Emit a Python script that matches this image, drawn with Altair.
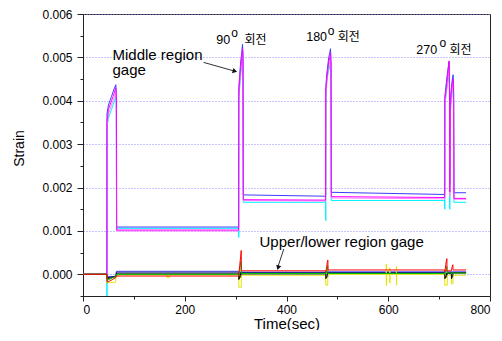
import altair as alt
import pandas as pd

# ---------------- data (time in s, strain) ----------------
X_MAJOR = [0, 200, 400, 600, 800]
X_MINOR = [100, 300, 500, 700]
Y_MAJOR = [0.000, 0.001, 0.002, 0.003, 0.004, 0.005, 0.006]
Y_MINOR = [-0.0005, 0.0005, 0.0015, 0.0025, 0.0035, 0.0045, 0.0055]

MID_CYAN = [(0, 0), (47, 0), (47.1, -0.0005), (47.3, 0.0034), (50, 0.0036), (53, 0.0037), (56, 0.0038),
            (59, 0.0039), (62, 0.0040), (64.5, 0.0041), (65.5, 0.0039), (66, 0.00106),
            (306, 0.00106), (306.2, 0.00085), (306.4, 0.0040), (308, 0.0043), (310, 0.0046), (312, 0.0048),
            (313.5, 0.0050), (314.5, 0.0048), (315, 0.00166),
            (477, 0.00166), (477.2, 0.00124), (477.4, 0.0041), (479, 0.0044), (481, 0.0046), (483, 0.0047),
            (485, 0.0048), (486.5, 0.0049), (487.5, 0.0046), (488, 0.00170),
            (711, 0.00170), (711.2, 0.0015), (711.4, 0.0039), (714, 0.0042), (717, 0.0044), (719.5, 0.0046),
            (720.3, 0.0043), (721, 0.0015), (722, 0.0037), (724, 0.0040), (726, 0.0042), (727.5, 0.0043),
            (728.5, 0.0040), (729, 0.00166), (753, 0.00166)]

MID_BLUE = [(0, 0), (47, 0), (47.2, 0.0037), (50, 0.0039), (53, 0.0040), (56, 0.0041), (59, 0.0042),
            (62, 0.0043), (64.5, 0.00437), (65.5, 0.0041), (66, 0.00109),
            (306, 0.00109), (306.3, 0.0043), (308, 0.0046), (310, 0.0049), (312, 0.0051), (313.5, 0.0053),
            (314.5, 0.0051), (315, 0.00183),
            (477, 0.00180), (477.3, 0.0043), (479, 0.0046), (481, 0.0048), (483, 0.0050), (485, 0.0051),
            (486.5, 0.0052), (487.5, 0.0049), (488, 0.00189),
            (711, 0.00184), (711.3, 0.0041), (714, 0.0044), (717, 0.0047), (719.5, 0.0049), (720.3, 0.0046),
            (721, 0.0021), (722, 0.0040), (724, 0.0043), (726, 0.0045), (727.5, 0.0046), (728.5, 0.0043),
            (729, 0.00188), (753, 0.00188)]

MID_PINK = [(0, 0), (47, 0), (47.1, 0.0034), (50, 0.0037), (53, 0.0038), (56, 0.0039), (59, 0.0040),
            (62, 0.0041), (64.5, 0.0042), (65.5, 0.0039), (66, 0.00100),
            (306, 0.00100), (306.2, 0.0040), (308, 0.0044), (310, 0.0047), (312, 0.0049), (313.5, 0.0051),
            (314.5, 0.0048), (315, 0.00170),
            (477, 0.00169), (477.2, 0.0041), (479, 0.0044), (481, 0.0046), (483, 0.0048), (485, 0.0049),
            (486.5, 0.0050), (487.5, 0.0047), (488, 0.00176),
            (711, 0.00174), (711.2, 0.0039), (714, 0.0042), (717, 0.0045), (719.5, 0.0047), (720.3, 0.0044),
            (721, 0.0018), (722, 0.0038), (724, 0.0041), (726, 0.0043), (727.5, 0.0044), (728.5, 0.0041),
            (729, 0.00173), (753, 0.00173)]

MID_MAGENTA = [(0, 0), (46.8, 0), (47, 0.0035), (50, 0.0038), (53, 0.0039), (56, 0.0040), (59, 0.0041),
               (62, 0.0042), (64.5, 0.0043), (65.8, 0.0040), (66.3, 0.00102),
               (305.8, 0.00102), (306, 0.0041), (308, 0.0045), (310, 0.0048), (312, 0.0050), (313.5, 0.0052),
               (314.5, 0.0049), (315.2, 0.00172),
               (476.8, 0.00171), (477, 0.0042), (479, 0.0045), (481, 0.0047), (483, 0.0049), (485, 0.0050),
               (486.5, 0.0051), (487.5, 0.0048), (488.2, 0.00179),
               (710.8, 0.00177), (711, 0.0040), (714, 0.0043), (717, 0.0046), (719.5, 0.00492), (720.3, 0.0045),
               (721, 0.0019), (722, 0.0039), (724, 0.0042), (726, 0.0044), (727.5, 0.0045), (728.5, 0.0042),
               (729.2, 0.00175), (753, 0.00175)]

LOW_BLUE = [(0, 0), (47, 0), (47.3, -0.00005), (65, -0.00005), (65.5, 0.00007), (306, 0.00007),
            (306.3, -0.00003), (311, 0.00005), (477, 0.00005), (481, 0.00006), (711, 0.00006), (753, 0.00006)]

LOW_NAVY = [(0, 0), (47, 0), (47.3, -0.00008), (65, -0.00004), (65.5, 0.00005), (306, 0.00005),
            (306.3, -0.00006), (311, -0.00006), (311.3, 0.00004), (477, 0.00004), (477.3, -0.00006),
            (481, -0.00006), (481.3, 0.00004), (711, 0.00004), (711.3, -0.00006), (716, -0.00006),
            (716.3, 0.00004), (753, 0.00004)]

LOW_YELLOW = [(0, 0), (47, 0), (47.3, -0.0002), (64, -0.00018), (65.5, -0.00001), (165, -0.00001),
              (165.2, -0.00007), (170, -0.00007), (170.2, -0.00001), (306, -0.00001), (306.3, -0.0003),
              (311, -0.0003), (311.3, -0.00002), (477, -0.00002), (477.3, -0.00025), (481, -0.00025),
              (481.3, 0.0), (596, 0.0), (596.1, 0.00024), (596.3, -0.00026), (596.5, 0.0), (603, 0.0),
              (603.1, 0.00015), (603.3, -0.0002), (603.5, 0.0), (616, 0.0), (616.1, 0.00018),
              (616.3, -0.00025), (616.5, 0.0), (711, 0.0), (711.3, -0.00025), (716, -0.00025),
              (716.3, -0.00002), (724, -0.00002), (724.3, -0.00022), (727, -0.00022), (727.3, -0.00002),
              (753, -0.00002)]

LOW_BLACK = [(0, 0), (47, 0), (47.3, -0.0001), (56, -0.00008), (65, -0.00005), (65.5, 0.00001),
             (306, 0.00001), (306.3, -0.00012), (308.5, -0.00006), (310.5, 0.00006), (310.8, 0.00001),
             (477, 0.00001), (477.3, -0.0001), (479.5, -0.00005), (481, 0.00005), (481.3, 0.00002),
             (711, 0.00002), (711.3, -0.0001), (713.5, -0.00005), (715, 0.00003), (715.3, 0.00002),
             (724, 0.00002), (724.3, -0.0001), (726.5, -0.00005), (727.3, 0.00003), (753, 0.00003)]

LOW_GREEN = [(0, 0), (47, 0), (47.3, -0.00014), (55, -0.0001), (64, -0.00005), (65.5, 0.0), (306, 0.0),
             (306.3, -0.00004), (308.5, 0.00015), (310.5, 0.0003), (310.8, 0.00002), (477, 0.00002),
             (477.3, 0.0), (479.5, 0.0001), (481, 0.0002), (481.3, 0.00002), (711, 0.00002), (711.3, 0.0),
             (713.5, 0.0001), (715, 0.00018), (715.3, 0.00003), (753, 0.00003)]

LOW_RED = [(0, 0), (47, 0), (47.3, -0.00018), (52, -0.00016), (58, -0.00012), (64, -0.00008),
           (65.5, -0.00004), (306, -0.00004), (306.3, 0.0), (308, 0.0002), (310, 0.00042), (311, 0.00055),
           (311.3, 0.00008), (477, 0.00008), (477.3, 0.00004), (479, 0.00018), (480.5, 0.0003),
           (481.3, 0.00033), (481.6, 0.0001), (711, 0.0001), (711.3, 0.00005), (713, 0.00022),
           (714.5, 0.00033), (715.3, 0.00036), (715.6, 0.00008), (724, 0.00008), (725.5, 0.00017),
           (727, 0.00022), (727.3, 0.0001), (753, 0.0001)]

SERIES = [("cyan", MID_CYAN), ("blue", MID_BLUE), ("pink", MID_PINK), ("magenta", MID_MAGENTA),
          ("lblue", LOW_BLUE), ("navy", LOW_NAVY), ("yellow", LOW_YELLOW), ("black", LOW_BLACK),
          ("green", LOW_GREEN), ("red", LOW_RED)]
COLORS = ["#00f0ff", "#3c3cff", "#ff80ff", "#ff00ff",
          "#5a5aff", "#1a1a8c", "#e6e600", "#000000", "#00c800", "#ff0000"]

ANN_TEXT = ["Middle region", "gage", "Upper/lower region gage",
            "90", "o", "회전", "180", "o", "회전", "270", "o", "회전"]
ANN_T = [58, 58, 347, 261.8, 291.3, 317.5, 438.7, 481.2, 500.8, 655, 700.7, 720.4]
ANN_V = [0.00494, 0.0046, 0.000636, 0.005305, 0.00548, 0.005305, 0.00537, 0.00552, 0.00537,
         0.005076, 0.005245, 0.005076]
ANN_SIZE = [15, 15, 15, 12.5, 12, 12, 12.5, 12, 12, 12.5, 12, 12]

ARROW_T = [236.9, 394.7]
ARROW_V = [0.004885, 0.000583]
ARROW_T2 = [299.5, 383.0]
ARROW_V2 = [0.004678, 0.00017]
HEAD_T = [298.6, 383.5]
HEAD_V = [0.004681, 0.000152]
HEAD_ANGLE = [106, 197]

# ---------------- tables ----------------
rows = []
for name, pts in SERIES:
    for i, (t, v) in enumerate(pts):
        rows.append({"s": name, "i": i, "t": t, "v": v})
df = pd.DataFrame(rows)
ann_df = pd.DataFrame({"txt": ANN_TEXT, "t": ANN_T, "v": ANN_V, "fs": ANN_SIZE})
arrow_df = pd.DataFrame({"t": ARROW_T, "v": ARROW_V, "t2": ARROW_T2, "v2": ARROW_V2})
head_df = pd.DataFrame({"t": HEAD_T, "v": HEAD_V, "a": HEAD_ANGLE})

FONT = "Liberation Sans"
x_scale = alt.Scale(domain=[0, 800], nice=False, zero=False)
y_scale = alt.Scale(domain=[-0.0005, 0.006], nice=False, zero=False)

x_axis = alt.Axis(orient="bottom", values=X_MAJOR, format="d", title="Time(sec)", grid=False,
                  tickSize=5, labelFontSize=12, labelFont=FONT, labelColor="#000", labelPadding=3,
                  titleFont=FONT, titleFontSize=15, titleFontWeight="normal", titleColor="#000",
                  titleY=32, titleBaseline="alphabetic", domainColor="#222", tickColor="#222")
y_axis = alt.Axis(orient="left", values=Y_MAJOR, format=".3f", title="Strain", grid=True,
                  gridDash=[1, 2], gridColor="#8c8cff", gridWidth=1,
                  tickSize=6, labelFontSize=12, labelFont=FONT, labelColor="#000", labelPadding=5,
                  titleFont=FONT, titleFontSize=14, titleFontWeight="normal", titleColor="#000",
                  titleX=-59.5, titleY=134, titleBaseline="alphabetic", titleAngle=270,
                  domainColor="#222", tickColor="#222")

lines = alt.Chart(df).mark_line(strokeWidth=1, clip=True).encode(
    x=alt.X("t:Q", scale=x_scale, axis=x_axis),
    y=alt.Y("v:Q", scale=y_scale, axis=y_axis),
    color=alt.Color("s:N", scale=alt.Scale(domain=[s for s, _ in SERIES], range=COLORS), legend=None),
    order=alt.Order("i:Q"),
)

minor = alt.Chart(df).mark_point(opacity=0).encode(
    x=alt.X("t:Q", scale=x_scale,
            axis=alt.Axis(orient="bottom", values=X_MINOR, labels=False, tickSize=3, domain=False,
                          grid=False, title=None, tickColor="#222")),
    y=alt.Y("v:Q", scale=y_scale,
            axis=alt.Axis(orient="left", values=Y_MINOR, labels=False, tickSize=3, domain=False,
                          grid=False, title=None, tickColor="#222")),
)

texts = alt.Chart(ann_df).mark_text(align="left", baseline="alphabetic",
                                    font="Liberation Sans, Noto Sans CJK KR", color="#000").encode(
    x=alt.X("t:Q", scale=x_scale, axis=None),
    y=alt.Y("v:Q", scale=y_scale, axis=None),
    text="txt:N",
    size=alt.Size("fs:Q", scale=None),
)

arrows = alt.Chart(arrow_df).mark_rule(color="#333", strokeWidth=1).encode(
    x=alt.X("t:Q", scale=x_scale, axis=None), y=alt.Y("v:Q", scale=y_scale, axis=None),
    x2="t2:Q", y2="v2:Q",
)

heads = alt.Chart(head_df).mark_point(shape="triangle-up", filled=True, color="#111",
                                      size=28, opacity=1).encode(
    x=alt.X("t:Q", scale=x_scale, axis=None), y=alt.Y("v:Q", scale=y_scale, axis=None),
    angle=alt.Angle("a:Q", scale=None),
)

chart = alt.layer(lines, minor, texts, arrows, heads).resolve_axis(
    x="independent", y="independent"
).properties(
    width=407, height=282,
    padding={"left": 75, "top": 6, "right": 4, "bottom": 34},
    autosize=alt.AutoSizeParams(type="none"),
    background="white",
).configure_view(stroke="#222", strokeWidth=1)

chart.save("out.html", embed_options={"renderer": "svg", "actions": False})
